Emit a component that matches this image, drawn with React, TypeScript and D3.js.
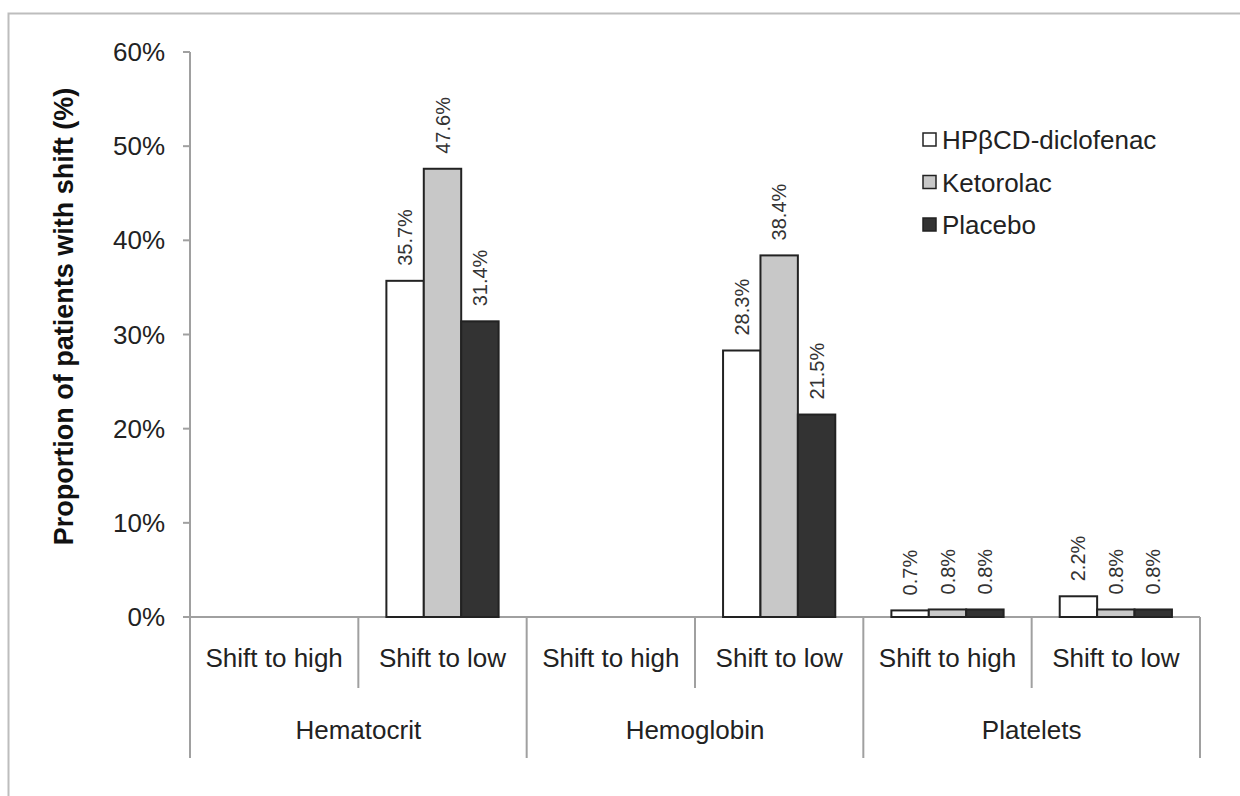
import React from "react";
import * as d3 from "d3";

const groups = ["Hematocrit", "Hemoglobin", "Platelets"];
const subCats = ["Shift to high", "Shift to low"];
const series = ["HPβCD-diclofenac", "Ketorolac", "Placebo"];
const seriesColors = ["#ffffff", "#c8c8c8", "#333333"];
// values per category (group × subcategory), per series; null = no bar
const diclofenac = [null, 35.7, null, 28.3, 0.7, 2.2];
const ketorolac = [null, 47.6, null, 38.4, 0.8, 0.8];
const placebo = [null, 31.4, null, 21.5, 0.8, 0.8];
const yTicks = [0, 10, 20, 30, 40, 50, 60];

const W = 1240;
const H = 796;
const x0 = 190;
const x1 = 1200;
const yTop = 52;
const yBase = 617;

export default function App() {
  const cats = groups.flatMap((g) => subCats.map((s) => `${g}|${s}`));
  const xCat = d3.scaleBand<string>().domain(cats).range([x0, x1]).paddingInner(0).paddingOuter(0);
  const xGroup = d3.scaleBand<string>().domain(groups).range([x0, x1]);
  const bw = xCat.bandwidth();
  const xSeries = d3
    .scaleBand<string>()
    .domain(series)
    .range([bw / 6, bw - bw / 6])
    .padding(0);
  const y = d3.scaleLinear().domain([0, 60]).range([yBase, yTop]);
  const data = [diclofenac, ketorolac, placebo];
  const font = "Liberation Sans, Arial, Helvetica, sans-serif";

  return (
    <svg width={W} height={H} style={{ position: "absolute", left: 0, top: 0 }} fontFamily={font}>
      <rect x={0} y={0} width={W} height={H} fill="#fff" />
      <rect x={8.5} y={13.5} width={1260} height={820} fill="none" stroke="#bdbdbd" strokeWidth={2} />
      {/* y axis */}
      <line x1={x0} x2={x0} y1={yTop} y2={758} stroke="#a0a0a0" strokeWidth={2} />
      {yTicks.map((t) => (
        <g key={t}>
          <line x1={x0 - 7} x2={x0} y1={y(t)} y2={y(t)} stroke="#a0a0a0" strokeWidth={2} />
          <text x={165} y={y(t)} textAnchor="end" dominantBaseline="central" fontSize={26} fill="#222">
            {t}%
          </text>
        </g>
      ))}
      <text
        transform={`translate(64,${(90 + 543) / 2}) rotate(-90)`}
        textAnchor="middle"
        dominantBaseline="central"
        fontSize={27}
        fontWeight="bold"
        fill="#111"
      >
        Proportion of patients with shift (%)
      </text>
      {/* x axis */}
      <line x1={x0} x2={x1} y1={yBase} y2={yBase} stroke="#a0a0a0" strokeWidth={2} />
      {cats.map((c, i) => {
        const xs = xCat(c)! + bw;
        const isGroupEnd = i % 2 === 1;
        return (
          <line
            key={c}
            x1={xs}
            x2={xs}
            y1={yBase}
            y2={isGroupEnd ? 758 : 688}
            stroke="#a0a0a0"
            strokeWidth={2}
          />
        );
      })}
      {cats.map((c) => (
        <text
          key={c}
          x={xCat(c)! + bw / 2}
          y={658}
          textAnchor="middle"
          dominantBaseline="central"
          fontSize={26}
          fill="#222"
        >
          {c.split("|")[1]}
        </text>
      ))}
      {groups.map((g) => (
        <text
          key={g}
          x={xGroup(g)! + xGroup.bandwidth() / 2}
          y={730}
          textAnchor="middle"
          dominantBaseline="central"
          fontSize={26}
          fill="#222"
        >
          {g}
        </text>
      ))}
      {/* bars */}
      {series.map((s, si) =>
        cats.map((c, ci) => {
          const v = data[si][ci];
          if (v === null) return null;
          const bx = xCat(c)! + xSeries(s)!;
          const w = xSeries.bandwidth();
          const top = y(v);
          return (
            <g key={s + c}>
              <rect
                x={bx}
                y={top}
                width={w}
                height={yBase - top}
                fill={seriesColors[si]}
                stroke="#222"
                strokeWidth={2}
              />
              <text
                transform={`translate(${bx + w / 2},${top - 15}) rotate(-90)`}
                textAnchor="start"
                dominantBaseline="central"
                fontSize={20}
                fill="#333"
              >
                {v.toFixed(1)}%
              </text>
            </g>
          );
        })
      )}
      {/* legend */}
      {series.map((s, i) => {
        const cy = 140 + i * 42.5;
        return (
          <g key={s}>
            <rect x={923} y={cy - 7} width={13} height={13} fill={seriesColors[i]} stroke="#222" strokeWidth={1.5} />
            <text x={942} y={cy} dominantBaseline="central" fontSize={26} fill="#222">
              {s}
            </text>
          </g>
        );
      })}
    </svg>
  );
}
